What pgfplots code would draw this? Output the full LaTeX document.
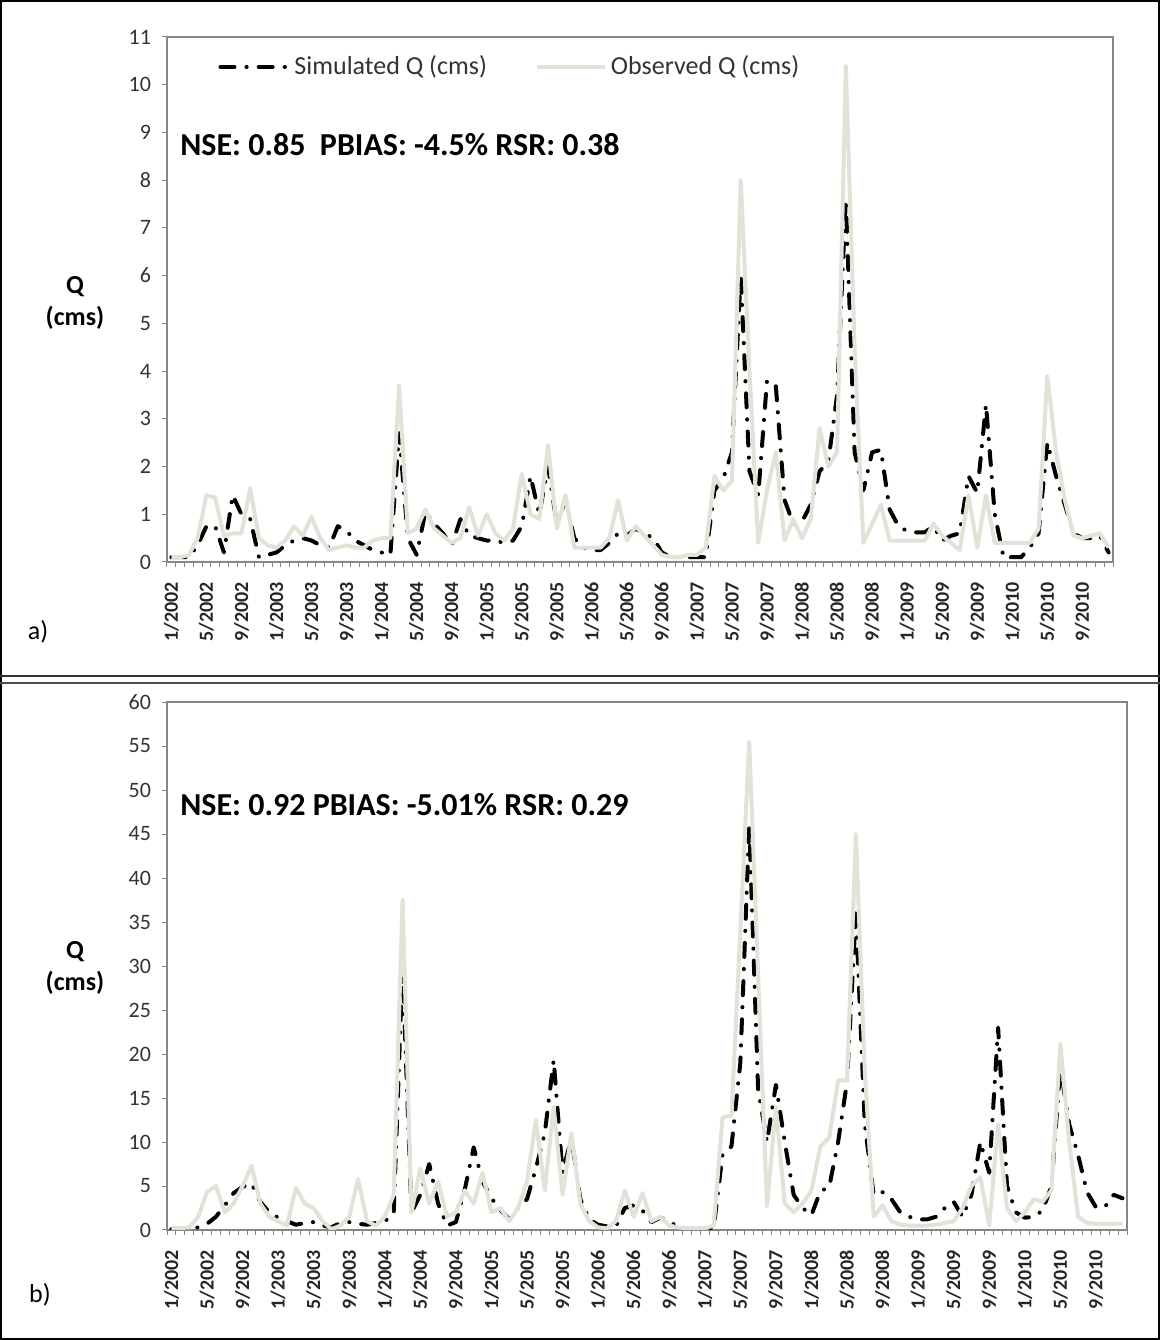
\documentclass[border=0pt]{standalone}
\usepackage{fontspec}
\setmainfont{Carlito}
\usepackage{pgfplots}
\usepackage{pgfplotstable}
\pgfplotsset{compat=1.18}
\definecolor{obscol}{RGB}{226,226,216}
\definecolor{axgray}{RGB}{134,134,134}

\pgfplotstableread{
i sim obs
0 0.10 0.10
1 0.10 0.10
2 0.10 0.15
3 0.35 0.50
4 0.75 1.40
5 0.75 1.35
6 0.20 0.55
7 1.40 0.60
8 1.00 0.60
9 0.90 1.55
10 0.10 0.50
11 0.15 0.35
12 0.20 0.30
13 0.35 0.45
14 0.45 0.75
15 0.50 0.55
16 0.45 0.95
17 0.35 0.50
18 0.30 0.25
19 0.75 0.30
20 0.65 0.35
21 0.45 0.30
22 0.35 0.30
23 0.25 0.45
24 0.20 0.50
25 0.15 0.50
26 2.70 3.70
27 0.50 0.60
28 0.15 0.70
29 1.05 1.10
30 0.80 0.70
31 0.60 0.55
32 0.35 0.40
33 0.90 0.50
34 0.55 1.15
35 0.50 0.55
36 0.45 1.00
37 0.45 0.60
38 0.40 0.45
39 0.45 0.70
40 0.75 1.85
41 1.80 1.00
42 1.00 0.90
43 2.00 2.45
44 0.80 0.70
45 1.30 1.40
46 0.50 0.30
47 0.30 0.30
48 0.25 0.30
49 0.25 0.30
50 0.40 0.50
51 0.60 1.30
52 0.55 0.45
53 0.70 0.75
54 0.60 0.55
55 0.50 0.35
56 0.20 0.15
57 0.10 0.10
58 0.10 0.10
59 0.10 0.15
60 0.10 0.15
61 0.10 0.30
62 1.50 1.80
63 1.75 1.50
64 2.30 1.70
65 6.00 8.00
66 1.90 4.00
67 1.40 0.40
68 3.80 1.50
69 3.70 2.30
70 1.30 0.45
71 0.80 0.90
72 0.85 0.50
73 1.20 0.90
74 1.90 2.80
75 2.10 2.00
76 3.50 2.30
77 7.60 10.40
78 2.30 4.50
79 1.50 0.40
80 2.30 0.80
81 2.35 1.20
82 1.10 0.45
83 0.75 0.45
84 0.65 0.45
85 0.62 0.45
86 0.62 0.45
87 0.75 0.80
88 0.45 0.55
89 0.55 0.40
90 0.60 0.25
91 1.80 1.40
92 1.45 0.30
93 3.30 1.40
94 1.00 0.40
95 0.10 0.40
96 0.10 0.40
97 0.10 0.40
98 0.30 0.40
99 0.60 0.70
100 2.50 3.90
101 1.80 2.30
102 1.20 1.30
103 0.60 0.55
104 0.50 0.50
105 0.50 0.55
106 0.55 0.60
107 0.20 0.30
}\dataA

\pgfplotstableread{
i sim obs
0 0.1 0.2
1 0.1 0.2
2 0.1 0.3
3 0.3 1.5
4 0.7 4.3
5 1.5 5.0
6 2.8 2.0
7 4.2 3.0
8 4.9 5.0
9 5.3 7.3
10 3.2 3.0
11 2.0 1.5
12 1.4 1.0
13 1.0 0.5
14 0.6 4.8
15 0.8 3.0
16 0.9 2.5
17 0.5 1.0
18 0.3 0.1
19 0.8 0.5
20 0.9 1.5
21 0.7 5.8
22 0.6 1.0
23 0.8 0.5
24 1.0 1.5
25 1.8 4.0
26 30.0 37.5
27 2.0 2.0
28 4.0 7.0
29 7.5 3.0
30 3.0 5.5
31 0.5 1.5
32 0.9 2.0
33 4.6 4.5
34 9.4 3.0
35 5.5 6.5
36 3.6 2.0
37 2.3 2.5
38 1.2 1.0
39 2.5 2.5
40 3.5 5.5
41 7.0 12.5
42 11.0 4.5
43 19.3 14.0
44 6.5 4.0
45 10.5 11.0
46 3.5 3.0
47 1.2 1.0
48 0.6 0.3
49 0.4 0.2
50 0.4 1.0
51 2.5 4.5
52 2.8 1.5
53 2.2 4.2
54 0.9 1.0
55 1.4 1.5
56 1.0 0.5
57 0.3 0.3
58 0.1 0.2
59 0.1 0.2
60 0.1 0.2
61 0.2 0.5
62 8.6 12.8
63 9.5 13.0
64 19.0 34.0
65 46.0 55.5
66 16.0 29.0
67 10.0 2.7
68 16.5 14.0
69 10.0 3.0
70 4.0 2.0
71 2.5 3.0
72 1.7 4.5
73 4.4 9.5
74 4.9 10.5
75 10.0 17.0
76 16.8 17.0
77 36.0 45.0
78 12.0 18.0
79 4.0 1.5
80 4.3 2.8
81 3.5 1.0
82 2.0 0.6
83 1.5 0.5
84 1.2 0.5
85 1.2 0.5
86 1.5 0.6
87 2.5 0.8
88 3.2 1.0
89 1.5 2.5
90 4.0 5.0
91 10.0 6.0
92 6.5 0.5
93 23.0 12.0
94 5.0 2.5
95 2.0 1.0
96 1.4 2.0
97 1.5 3.5
98 2.2 3.2
99 5.0 4.5
100 18.5 21.2
101 12.0 10.0
102 8.5 1.5
103 4.3 0.8
104 2.6 0.7
105 2.6 0.7
106 4.0 0.7
107 3.6 0.7
}\dataB

\pgfplotsset{
  myaxis/.style={
    scale only axis,
    xmin=-0.5, xmax=107.5,
    ymin=0,
    axis line style={axgray, line width=0.6pt},
    tick pos=left,
    tick align=outside,
    xtick={0,4,...,104},
    xticklabels={1/2002,5/2002,9/2002,1/2003,5/2003,9/2003,1/2004,5/2004,9/2004,1/2005,5/2005,9/2005,1/2006,5/2006,9/2006,1/2007,5/2007,9/2007,1/2008,5/2008,9/2008,1/2009,5/2009,9/2009,1/2010,5/2010,9/2010},
    x tick label style={rotate=90, anchor=east, font=\fontsize{10}{12}\selectfont\bfseries, text=black!85},
    xticklabel shift=4pt,
    major x tick style={draw=none},
    minor xtick={-0.5,0.5,...,107.5},
    minor x tick style={draw=axgray, line width=0.5pt},
    minor tick length=2.5pt,
    major tick length=2.5pt,
    ytick style={draw=axgray, line width=0.5pt},
    y tick label style={font=\fontsize{11}{13}\selectfont, text=black!80},
    yticklabel shift=2pt,
    /pgf/number format/assume math mode=true,
  },
  simstyle/.style={black, line width=2pt, line cap=round, line join=round,
    dash pattern=on 7pt off 6pt on 0.1pt off 6pt},
  obsstyle/.style={obscol, line width=2pt, line join=round},
}

\begin{document}
\begin{tikzpicture}
\useasboundingbox (0,0) rectangle (580pt,670pt);

% panel a
\begin{axis}[myaxis,
  at={(83.5pt,389pt)}, anchor=south west,
  width=473pt, height=262.5pt,
  ymax=11, ytick={0,1,...,11},
  legend style={at={(0.054,0.943)}, anchor=west, draw=none, fill=none,
    legend columns=2, font=\fontsize{13}{15}\selectfont, text=black!80,
    /tikz/every even column/.append style={column sep=22pt},
    inner sep=0pt},
  legend image code/.code={\draw (0pt,0pt) -- (34pt,0pt);},
]
\addplot[simstyle] table[x=i, y=sim] {\dataA};
\addlegendentry{Simulated Q (cms)}
\addplot[obsstyle] table[x=i, y=obs] {\dataA};
\addlegendentry{Observed Q (cms)}
\end{axis}

% panel b
\begin{axis}[myaxis,
  at={(83.5pt,55pt)}, anchor=south west,
  width=480pt, height=264pt,
  ymax=60, ytick={0,5,...,60},
]
\addplot[simstyle] table[x=i, y=sim] {\dataB};
\addplot[obsstyle] table[x=i, y=obs] {\dataB};
\end{axis}

% frame and separator
\draw[line width=1pt] (0.5pt,0.5pt) rectangle (579.5pt,669.5pt);
\draw[line width=1.2pt, black!80] (0pt,332pt) -- (580pt,332pt);
\draw[line width=0.9pt, black!70] (0pt,328.5pt) -- (580pt,328.5pt);

% texts
\node[font=\fontsize{13}{16}\selectfont\bfseries, align=center] at (37.5pt,518.5pt) {Q\\(cms)};
\node[font=\fontsize{13}{16}\selectfont\bfseries, align=center] at (37.5pt,186pt) {Q\\(cms)};
\node[anchor=west, font=\fontsize{16}{18}\selectfont\bfseries, inner sep=0pt] at (90pt,597.5pt) {NSE: 0.85\ \ PBIAS: -4.5\% RSR: 0.38};
\node[anchor=west, font=\fontsize{16}{18}\selectfont\bfseries, inner sep=0pt] at (90pt,267.5pt) {NSE: 0.92 PBIAS: -5.01\% RSR: 0.29};
\node[font=\fontsize{13}{15}\selectfont] at (19pt,354pt) {a)};
\node[font=\fontsize{13}{15}\selectfont] at (20pt,22.5pt) {b)};
\end{tikzpicture}
\end{document}
